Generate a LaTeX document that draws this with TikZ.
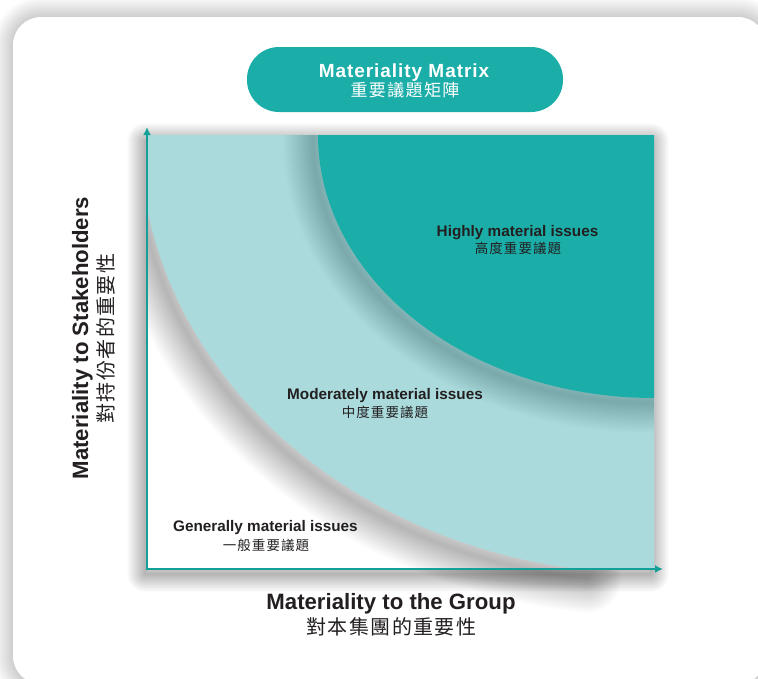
\documentclass[tikz,border=0pt]{standalone}
\usepackage{fontspec}
\setmainfont{Liberation Sans}
\newfontfamily\cjk{Noto Sans CJK TC}
\usetikzlibrary{arrows.meta}
\definecolor{tealdark}{HTML}{1BAEA8}
\definecolor{teallight}{HTML}{AADADC}
\definecolor{axisc}{HTML}{14A098}
\definecolor{txt}{HTML}{231F20}

\newcommand\cardshape[1]{\path[#1,rounded corners=28pt] (13,17) rectangle (766,684);}
\newcommand\chartshape[1]{\path[#1] (148,135) rectangle (654,568);}
\newcommand\lightshape[1]{\path[#1] (148,135) -- (148,212) -- plot[domain=169.9:99.5,samples=90] ({654+514*cos(\x)},{135+439*sin(\x)}) -- (654,568) -- (654,135) -- cycle;}
\newcommand\lightedge[1]{\path[#1] plot[domain=176:97,samples=90] ({654+514*cos(\x)},{135+439*sin(\x)});}
\newcommand\darkshape[1]{\path[#1] (318,135) -- plot[domain=180:90,samples=90] ({654+336*cos(\x)},{135+263*sin(\x)}) -- (654,135) -- cycle;}
\newcommand\darkedge[1]{\path[#1] plot[domain=190:85,samples=100] ({654+336*cos(\x)},{135+263*sin(\x)});}

% soft shadow from stacked transparent strokes
% #1 shape, #2 dx, #3 dy, #4 blur radius, #5 opacity per layer
\newcommand\softshadow[5]{%
  \foreach \i in {1,...,24}{%
    \pgfmathsetmacro\lw{2*#4*\i/24}%
    #1{draw=black,draw opacity=#5,line width=\lw pt,line join=round,line cap=round,shift={(#2,#3)}}%
  }}

\tikzset{
  lab/.style={text=txt,font=\bfseries\fontsize{15.3}{18}\selectfont,anchor=base,inner sep=0pt},
  labcjk/.style={text=txt,font=\cjk\addfontfeature{LetterSpace=8}\fontsize{13.5}{16}\selectfont,anchor=base,inner sep=0pt},
  axlab/.style={text=txt,font=\bfseries\fontsize{22.2}{26}\selectfont,anchor=base,inner sep=0pt},
  axcjk/.style={text=txt,font=\cjk\addfontfeature{LetterSpace=7}\fontsize{20}{24}\selectfont,anchor=base,inner sep=0pt},
  axisline/.style={draw=axisc,line width=2.6pt,{Latex[length=8pt,width=8pt]}-{Latex[length=8pt,width=8pt]}},
  pill/.style={fill=tealdark,rounded corners=32pt,minimum width=316pt,minimum height=65pt,inner sep=0pt},
}

\begin{document}
\begin{tikzpicture}[x=1pt,y=-1pt]
\useasboundingbox (0,0) rectangle (758,678);
\fill[white] (0,0) rectangle (758,678);
% card
\softshadow{\cardshape}{0}{0}{20}{0.0075}
\cardshape{fill=white}
% chart background
\softshadow{\chartshape}{-3}{6}{18}{0.012}
\chartshape{fill=white}
% light region
\begin{scope}
  \clip (148,135) rectangle (700,678);
  \softshadow{\lightedge}{-4}{8}{34}{0.013}
\end{scope}
\lightshape{fill=teallight}
% dark region
\begin{scope}
  \lightshape{clip}
  \softshadow{\darkedge}{-5}{5}{30}{0.0095}
\end{scope}
\darkshape{fill=tealdark}

% axes
\coordinate (O) at (147,569);
\coordinate (ytop) at (147,127);
\coordinate (xend) at (663,569);
\draw[axisline] (ytop) -- (O) -- (xend);

% title pill
\node[pill] (pill) at (405,79.5) {};
\node[anchor=base,inner sep=0pt,text=white,font=\bfseries\addfontfeature{LetterSpace=5}\fontsize{19}{22}\selectfont] (t1) at (404,77) {Materiality Matrix};
\node[anchor=base,inner sep=0pt,text=white,font=\cjk\addfontfeature{LetterSpace=8}\fontsize{17}{20}\selectfont] (t2) at (405,96) {重要議題矩陣};

% region labels
\node[lab] (h1) at (517.5,236) {Highly material issues};
\node[labcjk] (h2) at (518,253) {高度重要議題};
\node[lab] (m1) at (385,399) {Moderately material issues};
\node[labcjk] (m2) at (385,417) {中度重要議題};
\node[lab] (g1) at (265.5,531) {Generally material issues};
\node[labcjk] (g2) at (266,550) {一般重要議題};

% axis labels
\node[axlab] (xl1) at (391,609) {Materiality to the Group};
\node[axcjk] (xl2) at (391.5,634) {對本集團的重要性};
\node[axlab,rotate=90] (yl1) at (88,338) {Materiality to Stakeholders};
\node[axcjk,rotate=90] (yl2) at (113.5,338.5) {對持份者的重要性};
\end{tikzpicture}
\end{document}
